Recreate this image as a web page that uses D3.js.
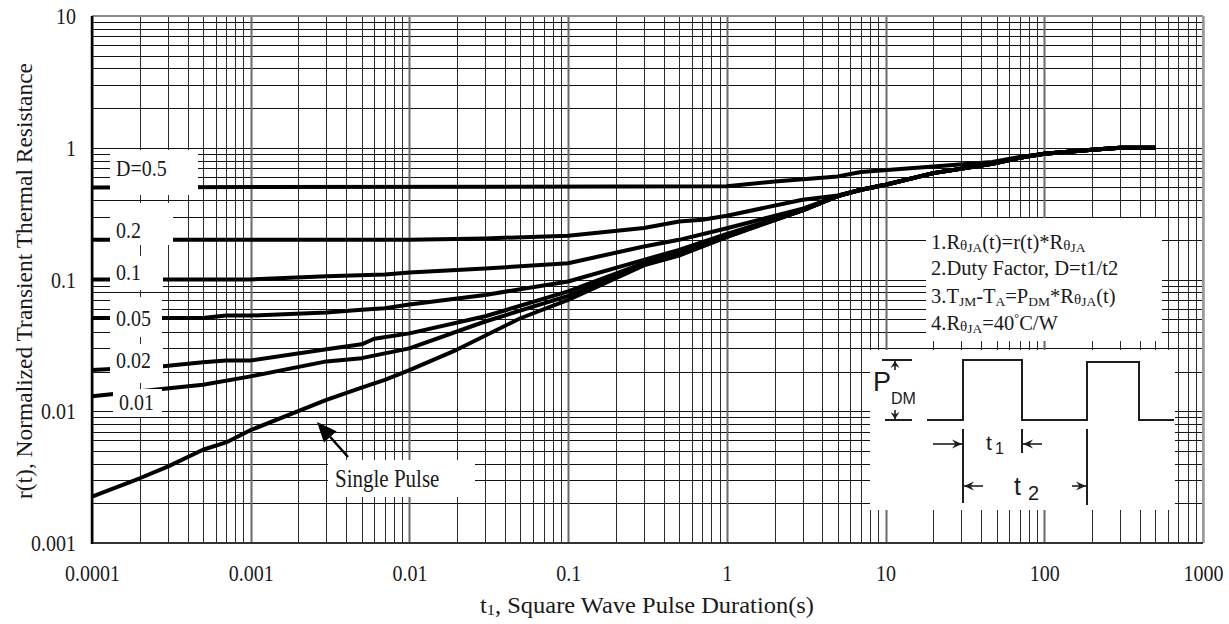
<!DOCTYPE html>
<html><head><meta charset="utf-8">
<script src="https://cdn.jsdelivr.net/npm/d3@7"></script>
<style>
html,body{margin:0;padding:0;background:#fff;}
svg{display:block;}
text{font-family:"Liberation Serif","Times New Roman",serif;fill:#1a1a1a;}
.sans{font-family:"Liberation Sans",Arial,sans-serif;}
</style></head><body>
<svg id="chart" width="1229" height="624"></svg>
<script>
// Normalized transient thermal resistance r(t) versus square-wave pulse duration t1

const xTickValues = [1e-4, 1e-3, 1e-2, 1e-1, 1, 10, 100, 1000];
const xTickLabels = ["0.0001", "0.001", "0.01", "0.1", "1", "10", "100", "1000"];
const yTickValues = [1e-3, 1e-2, 1e-1, 1, 10];
const yTickLabels = ["0.001", "0.01", "0.1", "1", "10"];

// [t1 (s), r(t)] for each duty factor
const singlePulse = [[1e-4,0.00225],[2e-4,0.0031],[3e-4,0.0038],[5e-4,0.0051],[7e-4,0.0058],[1e-3,0.0072],[3e-3,0.0122],[5e-3,0.0151],[7e-3,0.0173],[0.01,0.0205],[0.02,0.0294],[0.05,0.0508],[0.1,0.070],[0.3,0.128],[0.5,0.152],[1,0.21],[3,0.335],[5,0.43],[7,0.48],[10,0.524],[20,0.642],[47,0.756],[70,0.84],[100,0.9],[200,0.965],[300,1.0],[500,1.0]];
const duty001 = [[1e-4,0.0130],[5e-4,0.0159],[1e-3,0.0184],[3e-3,0.0239],[5e-3,0.0253],[0.01,0.030],[0.03,0.048],[0.1,0.075],[0.3,0.132],[0.5,0.155],[1,0.212],[3,0.335],[5,0.43],[7,0.48],[10,0.524],[20,0.642],[47,0.756],[70,0.84],[100,0.9],[200,0.965],[300,1.0],[500,1.0]];
const duty002 = [[1e-4,0.0206],[2.7e-4,0.0219],[5e-4,0.0235],[7e-4,0.0243],[1e-3,0.0243],[3e-3,0.0296],[5e-3,0.0322],[6e-3,0.0355],[0.01,0.039],[0.03,0.0526],[0.1,0.0812],[0.3,0.133],[0.5,0.16],[1,0.215],[3,0.335],[5,0.43],[7,0.48],[10,0.524],[20,0.642],[47,0.756],[70,0.84],[100,0.9],[200,0.965],[300,1.0],[500,1.0]];
const duty005 = [[1e-4,0.051],[5e-4,0.051],[7e-4,0.0533],[1e-3,0.0533],[3e-3,0.0561],[5e-3,0.0589],[7e-3,0.0606],[0.01,0.0645],[0.03,0.0764],[0.1,0.0966],[0.3,0.141],[0.5,0.168],[1,0.222],[3,0.335],[5,0.43],[7,0.48],[10,0.524],[20,0.642],[47,0.756],[70,0.84],[100,0.9],[200,0.965],[300,1.0],[500,1.0]];
const duty01 = [[1e-4,0.1],[1e-3,0.1],[3e-3,0.106],[7e-3,0.109],[0.01,0.113],[0.03,0.121],[0.05,0.126],[0.1,0.133],[0.3,0.178],[0.5,0.20],[1,0.245],[3,0.345],[5,0.43],[7,0.48],[10,0.524],[20,0.642],[47,0.756],[70,0.84],[100,0.9],[200,0.965],[300,1.0],[500,1.0]];
const duty02 = [[1e-4,0.2],[0.01,0.2],[0.03,0.205],[0.1,0.215],[0.3,0.246],[0.5,0.276],[0.7,0.284],[1,0.305],[3,0.403],[5,0.434],[7,0.48],[10,0.524],[20,0.642],[47,0.756],[70,0.84],[100,0.9],[200,0.965],[300,1.0],[500,1.0]];
const duty05 = [[1e-4,0.5],[1,0.51],[2,0.555],[5,0.606],[7,0.654],[20,0.72],[47,0.78],[70,0.85],[100,0.9],[200,0.965],[300,1.0],[500,1.0]];

const curves = [duty05, duty02, duty01, duty005, duty002, duty001, singlePulse];
const dutyLabels = ["D=0.5", "0.2", "0.1", "0.05", "0.02", "0.01"];

const plot = {left: 92, right: 1203, top: 16, bottom: 543};
const STRETCH = 1.2;   // serif glyphs drawn a little taller than wide

const svg = d3.select("#chart");
const x = d3.scaleLog().domain([1e-4, 1e3]).range([plot.left, plot.right]);
const y = d3.scaleLog().domain([1e-3, 10]).range([plot.bottom, plot.top]);

// text centred vertically on (px, py), stretched vertically
function stext(parent, px, py, str, size, anchor) {
  return parent.append("text")
    .attr("transform", `translate(${px},${py}) scale(1,${STRETCH})`)
    .attr("dy", "0.35em").attr("font-size", size)
    .attr("text-anchor", anchor || "start").text(str);
}

// ---- log grid ----
const grid = svg.append("g");
function logGridValues(lo, hi) {
  const out = [];
  for (let e = Math.round(Math.log10(lo)); e < Math.round(Math.log10(hi)); e++) {
    for (let k = 1; k <= 9; k++) out.push({v: k * Math.pow(10, e), major: k === 1});
  }
  out.push({v: hi, major: true});
  return out;
}
const xg = logGridValues(1e-4, 1e3);
const yg = logGridValues(1e-3, 10);

grid.selectAll("line.h").data(yg).join("line")
  .attr("x1", plot.left).attr("x2", plot.right)
  .attr("y1", d => Math.round(y(d.v)) + 0.5).attr("y2", d => Math.round(y(d.v)) + 0.5)
  .attr("stroke", "#111").attr("stroke-width", 1);
grid.selectAll("line.v").data(xg).join("line")
  .attr("y1", plot.top).attr("y2", plot.bottom)
  .attr("x1", d => Math.round(x(d.v)) + 0.5).attr("x2", d => Math.round(x(d.v)) + 0.5)
  .attr("stroke", d => d.major ? "#6a6a6a" : "#2a2a2a")
  .attr("stroke-width", d => d.major ? 2 : 1);

// frame
svg.append("line").attr("x1", plot.left).attr("x2", plot.right).attr("y1", plot.top).attr("y2", plot.top)
  .attr("stroke", "#8a8a8a").attr("stroke-width", 2);
svg.append("line").attr("x1", plot.right).attr("x2", plot.right).attr("y1", plot.top).attr("y2", plot.bottom)
  .attr("stroke", "#9a9a9a").attr("stroke-width", 2);
svg.append("line").attr("x1", plot.left).attr("x2", plot.right).attr("y1", plot.bottom).attr("y2", plot.bottom)
  .attr("stroke", "#333").attr("stroke-width", 2);
svg.append("line").attr("x1", plot.left).attr("x2", plot.left).attr("y1", plot.top).attr("y2", plot.bottom + 1)
  .attr("stroke", "#000").attr("stroke-width", 2.5);

// ---- curves ----
const line = d3.line().x(d => x(d[0])).y(d => y(d[1]));
svg.append("g").selectAll("path").data(curves).join("path")
  .attr("d", line)
  .attr("fill", "none").attr("stroke", "#000").attr("stroke-width", 4)
  .attr("stroke-linejoin", "round");

// ---- white label boxes over the left ends of the curves ----
const labelBoxes = [
  {x0: 110, x1: 198, y0: 150, y1: 195, tx: 116, ty: 168},
  {x0: 110, x1: 173, y0: 203, y1: 245, tx: 116, ty: 230},
  {x0: 110, x1: 163, y0: 256, y1: 290, tx: 116, ty: 272},
  {x0: 110, x1: 162, y0: 297, y1: 337, tx: 116, ty: 318},
  {x0: 110, x1: 163, y0: 344, y1: 383, tx: 116, ty: 360},
  {x0: 113, x1: 162, y0: 389, y1: 417, tx: 119, ty: 402}
];
const lab = svg.append("g");
lab.selectAll("rect").data(labelBoxes).join("rect")
  .attr("x", d => d.x0).attr("y", d => d.y0)
  .attr("width", d => d.x1 - d.x0).attr("height", d => d.y1 - d.y0)
  .attr("fill", "#fff");
labelBoxes.forEach((d, i) => stext(lab, d.tx, d.ty, dutyLabels[i], 20));

// ---- axes ----
const yAxis = d3.axisLeft(y).tickValues(yTickValues).tickSize(0).tickPadding(16)
  .tickFormat((d, i) => yTickLabels[i]);
const gy = svg.append("g").attr("transform", `translate(${plot.left},0)`).call(yAxis);
gy.select(".domain").remove();
gy.selectAll("text")
  .attr("x", null).attr("transform", `translate(-16,0) scale(1,${STRETCH})`)
  .attr("font-size", 20).attr("font-family", "Liberation Serif").attr("fill", "#1a1a1a");

const xAxis = d3.axisBottom(x).tickValues(xTickValues).tickSize(0)
  .tickFormat((d, i) => xTickLabels[i]);
const gx = svg.append("g").attr("transform", `translate(0,${plot.bottom})`).call(xAxis);
gx.select(".domain").remove();
gx.selectAll("text").attr("y", null).attr("dy", "0.35em")
  .attr("transform", `translate(0,30) scale(1,${STRETCH})`)
  .attr("font-size", 20).attr("font-family", "Liberation Serif").attr("fill", "#1a1a1a");

// axis titles
svg.append("text")
  .attr("transform", `translate(24,281) rotate(-90) scale(1,1.1)`)
  .attr("text-anchor", "middle").attr("dy", "0.35em").attr("font-size", 21)
  .attr("textLength", 436).attr("lengthAdjust", "spacingAndGlyphs")
  .text("r(t), Normalized Transient Thermal Resistance");
const xt = svg.append("text")
  .attr("transform", `translate(647,605) scale(1,1.1)`)
  .attr("dy", "0.35em").attr("text-anchor", "middle").attr("font-size", 21)
  .attr("textLength", 334).attr("lengthAdjust", "spacingAndGlyphs");
xt.append("tspan").text("t");
xt.append("tspan").attr("font-size", 14).attr("dy", 2).text("1");
xt.append("tspan").attr("dy", -2).text(", Square Wave Pulse Duration(s)");

// ---- notes box ----
svg.append("rect").attr("x", 926).attr("y", 218).attr("width", 236).attr("height", 123).attr("fill", "#fff");
const notes = svg.append("g");
function note(yb, parts) {
  const t = notes.append("text").attr("x", 931).attr("y", yb).attr("font-size", 20.5);
  let shift = 0;
  parts.forEach(p => {
    const s = t.append("tspan").text(p.s);
    let target = 0, fs = 20.5;
    if (p.k === "sub") { target = 3; fs = 13.5; }
    if (p.k === "th") { target = 1; fs = 15; }
    if (p.k === "sup") { target = -8; fs = 12; }
    s.attr("font-size", fs).attr("dy", target - shift);
    shift = target;
  });
}
note(249, [{s: "1.R"}, {s: "θ", k: "th"}, {s: "JA", k: "sub"}, {s: "(t)=r(t)*R"}, {s: "θ", k: "th"}, {s: "JA", k: "sub"}]);
note(275, [{s: "2.Duty Factor, D=t1/t2"}]);
note(303, [{s: "3.T"}, {s: "JM", k: "sub"}, {s: "-T"}, {s: "A", k: "sub"}, {s: "=P"}, {s: "DM", k: "sub"}, {s: "*R"}, {s: "θ", k: "th"}, {s: "JA", k: "sub"}, {s: "(t)"}]);
note(330, [{s: "4.R"}, {s: "θ", k: "th"}, {s: "JA", k: "sub"}, {s: "=40"}, {s: "°", k: "sup"}, {s: "C/W"}]);

// ---- pulse waveform inset ----
const inset = svg.append("g");
inset.append("rect").attr("x", 870).attr("y", 350).attr("width", 305).attr("height", 160).attr("fill", "#fff");
const ink = "#1e1e1e";
inset.append("path")
  .attr("d", "M927,420 H963 V360 H1022 V420 H1087 V362 H1139 V420 H1174")
  .attr("fill", "none").attr("stroke", ink).attr("stroke-width", 2);
inset.append("path").attr("d", "M963,429 V503 M1022,429 V453 M1087,429 V505")
  .attr("fill", "none").attr("stroke", ink).attr("stroke-width", 2);

function arrow(x1, y1, x2, y2, hl, hw) {
  const a = Math.atan2(y2 - y1, x2 - x1);
  const bx = x2 - hl * Math.cos(a), by = y2 - hl * Math.sin(a);
  const px = -Math.sin(a) * hw / 2, py = Math.cos(a) * hw / 2;
  inset.append("line").attr("x1", x1).attr("y1", y1).attr("x2", x2).attr("y2", y2)
    .attr("stroke", ink).attr("stroke-width", 1.6);
  inset.append("path")
    .attr("d", `M${x2},${y2} L${bx + px},${by + py} L${bx + 0.35 * hl * Math.cos(a)},${by + 0.35 * hl * Math.sin(a)} L${bx - px},${by - py} Z`)
    .attr("fill", ink);
}
// P_DM level markers
inset.append("path").attr("d", "M882,360 H912 M885,420 H912").attr("stroke", ink).attr("stroke-width", 2);
arrow(895, 370, 895, 361, 7, 9);
arrow(895, 410, 895, 419, 7, 9);
// t1 / t2 dimension arrows
arrow(933, 444, 962, 444, 10, 9);
arrow(1042, 444, 1023, 444, 10, 9);
arrow(983, 486, 964, 486, 10, 9);
arrow(1072, 486, 1086, 486, 10, 9);

inset.append("text").attr("class", "sans").attr("x", 873).attr("y", 391).attr("font-size", 27).text("P");
inset.append("text").attr("class", "sans").attr("x", 891).attr("y", 404).attr("font-size", 16).text("DM");
inset.append("text").attr("class", "sans").attr("x", 986).attr("y", 450).attr("font-size", 21).text("t");
inset.append("text").attr("class", "sans").attr("x", 995).attr("y", 454).attr("font-size", 16).text("1");
inset.append("text").attr("class", "sans").attr("x", 1014).attr("y", 495).attr("font-size", 25).text("t");
inset.append("text").attr("class", "sans").attr("x", 1028).attr("y", 500).attr("font-size", 20).text("2");

// ---- single pulse callout ----
svg.append("rect").attr("x", 328).attr("y", 460).attr("width", 147).attr("height", 37).attr("fill", "#fff");
stext(svg, 335, 478, "Single Pulse", 21);
(function () {
  const x1 = 348, y1 = 457, x2 = 317, y2 = 422, hl = 20, hw = 17;
  const a = Math.atan2(y2 - y1, x2 - x1);
  const bx = x2 - hl * Math.cos(a), by = y2 - hl * Math.sin(a);
  const px = -Math.sin(a) * hw / 2, py = Math.cos(a) * hw / 2;
  svg.append("line").attr("x1", x1).attr("y1", y1).attr("x2", bx).attr("y2", by)
    .attr("stroke", "#000").attr("stroke-width", 2.5);
  svg.append("path").attr("d", `M${x2},${y2} L${bx + px},${by + py} L${bx - px},${by - py} Z`).attr("fill", "#000");
})();
</script>
</body></html>
